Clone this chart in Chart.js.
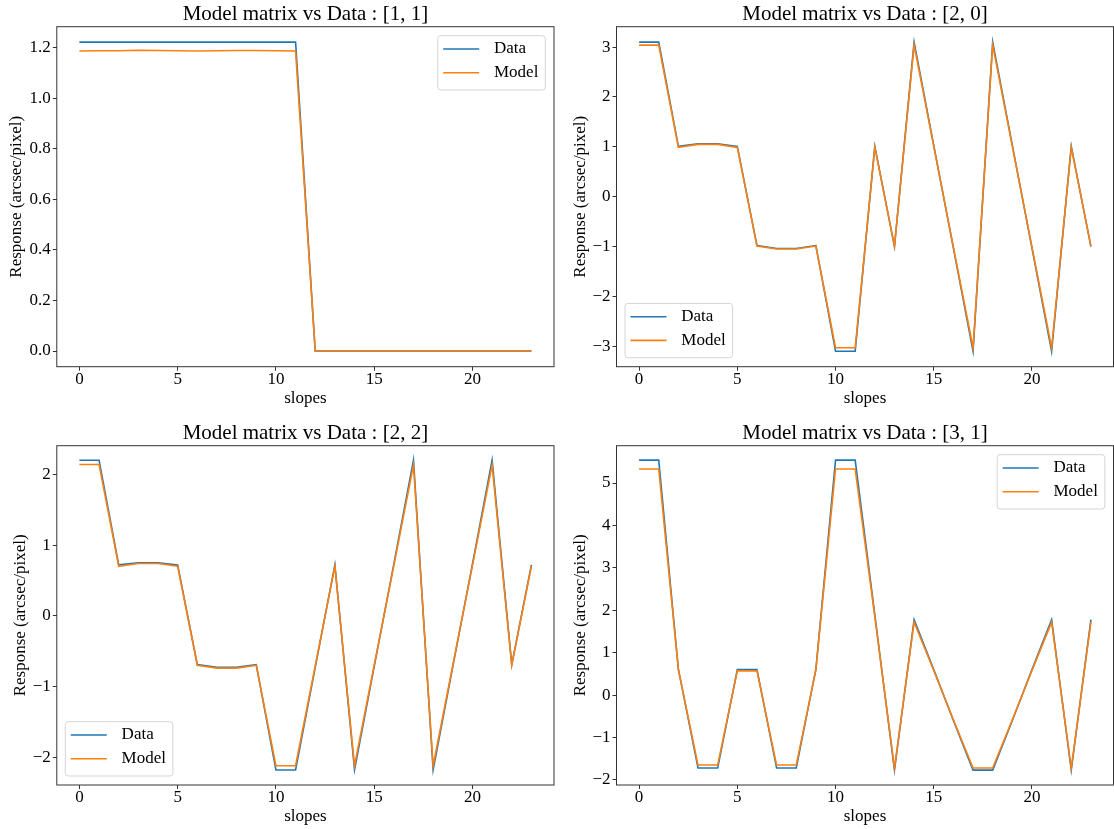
<!DOCTYPE html>
<html>
<head>
<meta charset="utf-8">
<script src="https://cdn.jsdelivr.net/npm/chart.js@4.4.1/dist/chart.umd.min.js"></script>
<style>
  html, body { margin: 0; padding: 0; background: #fff; }
  #wrap { position: relative; width: 1114px; height: 829px; overflow: hidden; }
  canvas { position: absolute; }
</style>
</head>
<body>
<div id="wrap">
  <canvas id="c11" width="557" height="414" style="left:0px;top:0px"></canvas>
  <canvas id="c20" width="557" height="414" style="left:557px;top:0px"></canvas>
  <canvas id="c22" width="557" height="415" style="left:0px;top:414px"></canvas>
  <canvas id="c31" width="557" height="415" style="left:557px;top:414px"></canvas>
</div>
<script>
// ---------- data ----------
const slopes = [0,1,2,3,4,5,6,7,8,9,10,11,12,13,14,15,16,17,18,19,20,21,22,23];

const data11  = [1.222,1.222,1.222,1.222,1.222,1.222,1.222,1.222,1.222,1.222,1.222,1.222,0,0,0,0,0,0,0,0,0,0,0,0];
const model11 = [1.187,1.188,1.188,1.190,1.189,1.188,1.187,1.188,1.189,1.189,1.188,1.187,0,0,0,0,0,0,0,0,0,0,0,0];

const data20  = [3.10,3.10,1.01,1.06,1.06,1.01,-0.98,-1.04,-1.04,-0.98,-3.10,-3.10,1.01,-1.00,3.10,1.03,-1.03,-3.10,3.10,1.03,-1.03,-3.10,1.01,-1.00];
const model20 = [3.04,3.04,0.99,1.05,1.05,0.99,-0.99,-1.05,-1.05,-0.99,-3.03,-3.03,0.99,-0.99,3.04,1.01,-1.01,-3.03,3.04,1.01,-1.01,-3.03,0.99,-0.99];

const data22  = [2.20,2.20,0.72,0.75,0.75,0.72,-0.69,-0.73,-0.73,-0.69,-2.18,-2.18,-0.73,0.72,-2.18,-0.72,0.73,2.20,-2.18,-0.72,0.73,2.20,-0.69,0.72];
const model22 = [2.14,2.14,0.70,0.74,0.74,0.70,-0.70,-0.74,-0.74,-0.70,-2.12,-2.12,-0.71,0.70,-2.12,-0.70,0.71,2.13,-2.12,-0.70,0.71,2.13,-0.70,0.70];

const data31  = [5.54,5.54,0.61,-1.72,-1.72,0.60,0.60,-1.72,-1.72,0.61,5.54,5.54,1.89,-1.77,1.78,0.60,-0.60,-1.77,-1.77,-0.60,0.60,1.78,-1.77,1.78];
const model31 = [5.33,5.33,0.60,-1.65,-1.65,0.57,0.57,-1.65,-1.65,0.60,5.33,5.33,1.85,-1.72,1.72,0.58,-0.58,-1.72,-1.72,-0.58,0.58,1.72,-1.72,1.72];

const xTicks   = [0,5,10,15,20];
const yTicks11 = [0,0.2,0.4,0.6,0.8,1.0,1.2];
const yTicks20 = [-3,-2,-1,0,1,2,3];
const yTicks22 = [-2,-1,0,1,2];
const yTicks31 = [-2,-1,0,1,2,3,4,5];

const titles = ['Model matrix vs Data : [1, 1]','Model matrix vs Data : [2, 0]','Model matrix vs Data : [2, 2]','Model matrix vs Data : [3, 1]'];
const seriesNames = ['Data','Model'];
const xLabel = 'slopes';
const yLabel = 'Response (arcsec/pixel)';

// ---------- helpers ----------
const FONT = 'Liberation Serif';
const C_DATA = '#1f77b4', C_MODEL = '#ff7f0e';
const AX_H = 44;

function minus(s) { return String(s).replace('-', '\u2212'); }

const frameLegend = {
  id: 'frameLegend',
  afterDatasetsDraw(chart, args, opts) {
    const {ctx, chartArea: a} = chart;
    ctx.save();
    ctx.strokeStyle = '#333';
    ctx.lineWidth = 1;
    ctx.strokeRect(a.left, a.top, a.right - a.left, a.bottom - a.top);
    const w = 107.6, h = 54.3;
    let x, y;
    if (opts.loc === 'ur') { x = a.right - 8.7 - w; y = a.top + 9; }
    else { x = a.left + 8.5; y = a.bottom - 9 - h; }
    ctx.beginPath();
    if (ctx.roundRect) ctx.roundRect(x, y, w, h, 3); else ctx.rect(x, y, w, h);
    ctx.fillStyle = 'rgba(255,255,255,0.8)';
    ctx.fill();
    ctx.strokeStyle = '#d4d4d4';
    ctx.lineWidth = 1;
    ctx.stroke();
    chart.data.datasets.forEach((ds, i) => {
      const cy = y + 13.3 + i * 23.7;
      ctx.beginPath();
      ctx.moveTo(x + 5.5, cy);
      ctx.lineTo(x + 41.5, cy);
      ctx.strokeStyle = ds.borderColor;
      ctx.lineWidth = 1.6;
      ctx.stroke();
      ctx.fillStyle = '#000';
      ctx.font = '17px "' + FONT + '"';
      ctx.textBaseline = 'middle';
      ctx.textAlign = 'left';
      ctx.fillText(ds.label, x + 56.3, cy);
    });
    ctx.restore();
  }
};

function makeChart(id, cfg) {
  const cv = document.getElementById(id);
  const W = cv.width, H = cv.height;
  const r = cfg.rect;
  const pts = (arr) => slopes.map((s, i) => ({x: s, y: arr[i]}));
  return new Chart(cv, {
    type: 'line',
    data: {
      datasets: [
        {label: seriesNames[0], data: pts(cfg.data), borderColor: C_DATA, backgroundColor: C_DATA, borderWidth: 1.6, pointRadius: 0, tension: 0, order: 1},
        {label: seriesNames[1], data: pts(cfg.model), borderColor: C_MODEL, backgroundColor: C_MODEL, borderWidth: 1.6, pointRadius: 0, tension: 0, order: 0}
      ]
    },
    options: {
      responsive: false,
      animation: false,
      events: [],
      layout: {padding: {left: 0, top: 0, right: W - r.right, bottom: H - r.bottom - AX_H}},
      plugins: {
        legend: {display: false},
        tooltip: {enabled: false},
        title: {
          display: true, text: cfg.title, fullSize: false, color: '#000',
          font: {family: FONT, size: 21, weight: 'normal', lineHeight: 1.2},
          padding: {top: r.top - 25.2, bottom: 0}
        },
        frameLegend: {loc: cfg.loc}
      },
      scales: {
        x: {
          type: 'linear', position: 'bottom', min: -1.15, max: 24.15,
          afterBuildTicks: (s) => { s.ticks = xTicks.map(v => ({value: v})); },
          afterFit: (s) => { s.height = AX_H; },
          grid: {display: true, drawOnChartArea: false, drawTicks: true, tickLength: 4, tickColor: '#333', tickWidth: 1},
          border: {display: false},
          ticks: {color: '#000', padding: 0, maxRotation: 0, autoSkip: false, font: {family: FONT, size: 17, lineHeight: 1}, callback: (v) => minus(v)},
          title: {display: true, text: xLabel, color: '#000', font: {family: FONT, size: 17, lineHeight: 1.2}, padding: {top: 0, bottom: AX_H - 31.5 - 10.2}}
        },
        y: {
          type: 'linear', position: 'left', min: cfg.ymin, max: cfg.ymax,
          afterBuildTicks: (s) => { s.ticks = cfg.yTicks.map(v => ({value: v})); },
          afterFit: (s) => { s.width = r.left; },
          grid: {display: true, drawOnChartArea: false, drawTicks: true, tickLength: 4, tickColor: '#333', tickWidth: 1},
          border: {display: false},
          ticks: {color: '#000', padding: 2, autoSkip: false, font: {family: FONT, size: 17, lineHeight: 1}, callback: (v) => minus(cfg.fmt(v))},
          title: {display: true, text: yLabel, color: '#000', font: {family: FONT, size: 17, lineHeight: 1.2}, padding: {top: cfg.ylabPad, bottom: 0}}
        }
      }
    },
    plugins: [frameLegend]
  });
}

const f1 = (v) => v.toFixed(1);
const f0 = (v) => String(v);

makeChart('c11', {title: titles[0], data: data11, model: model11, yTicks: yTicks11, ymin: -0.062, ymax: 1.283, fmt: f1, loc: 'ur',
  rect: {left: 56.8, right: 554, top: 26.7, bottom: 366.7}, ylabPad: 6.8});
makeChart('c20', {title: titles[1], data: data20, model: model20, yTicks: yTicks20, ymin: -3.41, ymax: 3.41, fmt: f0, loc: 'll',
  rect: {left: 59.5, right: 556.5, top: 26.7, bottom: 366.7}, ylabPad: 12.9});
makeChart('c22', {title: titles[2], data: data22, model: model22, yTicks: yTicks22, ymin: -2.393, ymax: 2.405, fmt: f0, loc: 'll',
  rect: {left: 56.8, right: 554, top: 31.7, bottom: 371}, ylabPad: 10.4});
makeChart('c31', {title: titles[3], data: data31, model: model31, yTicks: yTicks31, ymin: -2.12, ymax: 5.88, fmt: f0, loc: 'ur',
  rect: {left: 59.5, right: 556.5, top: 31.7, bottom: 371}, ylabPad: 12.9});
</script>
</body>
</html>
